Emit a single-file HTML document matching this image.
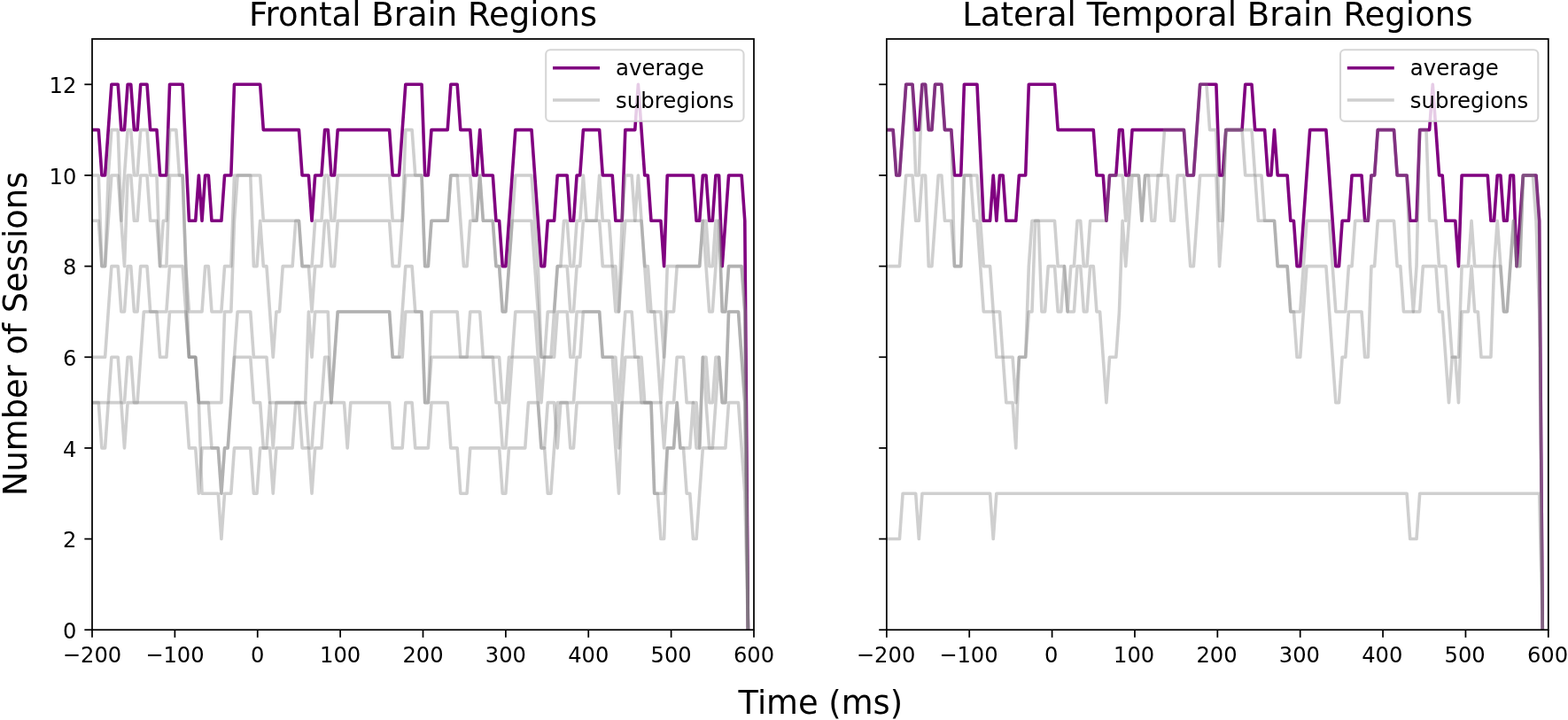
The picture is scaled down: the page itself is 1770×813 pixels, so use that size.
<!DOCTYPE html>
<html><head><meta charset="utf-8"><title>Number of Sessions</title>
<style>html,body{margin:0;padding:0;background:#fff;overflow:hidden}svg{display:block}text{font-family:"DejaVu Sans","Liberation Sans",sans-serif;fill:#000}</style></head>
<body>
<svg width="1770" height="813" viewBox="0 0 1770 813">
<rect width="1770" height="813" fill="#fff"/>
<defs><clipPath id="c0"><rect x="104.0" y="44.0" width="747.0" height="667.2"/></clipPath><clipPath id="c1"><rect x="1000.85" y="44.0" width="746.9499999999999" height="667.2"/></clipPath></defs>
<g clip-path="url(#c0)" fill="none" stroke-linejoin="round" stroke-linecap="square" stroke-width="3.60">
<polyline stroke="#800080" points="104.00,146.65 107.65,146.65 111.29,146.65 114.94,197.97 118.59,197.97 122.24,146.65 125.88,95.32 129.53,95.32 133.18,95.32 136.83,146.65 140.47,146.65 144.12,95.32 147.77,95.32 151.42,146.65 155.06,146.65 158.71,95.32 162.36,95.32 166.01,95.32 169.65,146.65 173.30,146.65 176.95,146.65 180.60,197.97 184.24,197.97 187.89,197.97 191.54,95.32 195.19,95.32 198.83,95.32 202.48,95.32 206.13,95.32 209.78,172.31 213.42,249.29 217.07,249.29 220.72,249.29 224.37,197.97 228.01,249.29 231.66,197.97 235.31,197.97 238.96,249.29 242.60,249.29 246.25,249.29 249.90,249.29 253.55,197.97 257.19,197.97 260.84,197.97 264.49,95.32 268.14,95.32 271.78,95.32 275.43,95.32 279.08,95.32 282.73,95.32 286.37,95.32 290.02,95.32 293.67,95.32 297.32,146.65 300.96,146.65 304.61,146.65 308.26,146.65 311.91,146.65 315.55,146.65 319.20,146.65 322.85,146.65 326.50,146.65 330.14,146.65 333.79,146.65 337.44,146.65 341.08,197.97 344.73,197.97 348.38,197.97 352.03,249.29 355.67,197.97 359.32,197.97 362.97,197.97 366.62,146.65 370.26,146.65 373.91,197.97 377.56,197.97 381.21,146.65 384.85,146.65 388.50,146.65 392.15,146.65 395.80,146.65 399.44,146.65 403.09,146.65 406.74,146.65 410.39,146.65 414.03,146.65 417.68,146.65 421.33,146.65 424.98,146.65 428.62,146.65 432.27,146.65 435.92,146.65 439.57,146.65 443.21,197.97 446.86,197.97 450.51,197.97 454.16,146.65 457.80,95.32 461.45,95.32 465.10,95.32 468.75,95.32 472.39,95.32 476.04,95.32 479.69,197.97 483.34,197.97 486.98,146.65 490.63,146.65 494.28,146.65 497.93,146.65 501.57,146.65 505.22,146.65 508.87,95.32 512.52,95.32 516.16,95.32 519.81,146.65 523.46,146.65 527.11,146.65 530.75,146.65 534.40,197.97 538.05,197.97 541.70,146.65 545.34,197.97 548.99,197.97 552.64,197.97 556.29,197.97 559.93,249.29 563.58,249.29 567.23,300.62 570.88,300.62 574.52,249.29 578.17,197.97 581.82,146.65 585.46,146.65 589.11,146.65 592.76,146.65 596.41,146.65 600.05,146.65 603.70,197.97 607.35,249.29 611.00,300.62 614.64,300.62 618.29,249.29 621.94,249.29 625.59,249.29 629.23,197.97 632.88,197.97 636.53,197.97 640.18,197.97 643.82,249.29 647.47,249.29 651.12,197.97 654.77,197.97 658.41,146.65 662.06,146.65 665.71,146.65 669.36,146.65 673.00,146.65 676.65,146.65 680.30,197.97 683.95,197.97 687.59,197.97 691.24,197.97 694.89,249.29 698.54,249.29 702.18,249.29 705.83,146.65 709.48,146.65 713.13,146.65 716.77,146.65 720.42,95.32 724.07,146.65 727.72,197.97 731.36,197.97 735.01,249.29 738.66,249.29 742.31,249.29 745.95,249.29 749.60,300.62 753.25,197.97 756.90,197.97 760.54,197.97 764.19,197.97 767.84,197.97 771.49,197.97 775.13,197.97 778.78,197.97 782.43,197.97 786.08,249.29 789.72,249.29 793.37,197.97 797.02,197.97 800.67,249.29 804.31,249.29 807.96,197.97 811.61,197.97 815.25,300.62 818.90,249.29 822.55,197.97 826.20,197.97 829.84,197.97 833.49,197.97 837.14,197.97 840.79,249.29 844.43,711.20"/>
<polyline stroke="#808080" stroke-opacity="0.38" points="104.00,197.97 107.65,197.97 111.29,197.97 114.94,300.62 118.59,300.62 122.24,197.97 125.88,146.65 129.53,146.65 133.18,146.65 136.83,249.29 140.47,197.97 144.12,146.65 147.77,146.65 151.42,197.97 155.06,197.97 158.71,146.65 162.36,146.65 166.01,146.65 169.65,197.97 173.30,197.97 176.95,197.97 180.60,300.62 184.24,249.29 187.89,249.29 191.54,146.65 195.19,146.65 198.83,146.65 202.48,197.97 206.13,197.97 209.78,300.62 213.42,351.94 217.07,351.94 220.72,351.94 224.37,351.94 228.01,351.94 231.66,300.62 235.31,300.62 238.96,351.94 242.60,351.94 246.25,351.94 249.90,351.94 253.55,300.62 257.19,300.62 260.84,300.62 264.49,197.97 268.14,197.97 271.78,197.97 275.43,197.97 279.08,197.97 282.73,197.97 286.37,197.97 290.02,197.97 293.67,197.97 297.32,249.29 300.96,249.29 304.61,249.29 308.26,249.29 311.91,249.29 315.55,249.29 319.20,249.29 322.85,249.29 326.50,249.29 330.14,249.29 333.79,249.29 337.44,249.29 341.08,300.62 344.73,300.62 348.38,300.62 352.03,300.62 355.67,249.29 359.32,249.29 362.97,249.29 366.62,197.97 370.26,197.97 373.91,249.29 377.56,249.29 381.21,197.97 384.85,197.97 388.50,197.97 392.15,197.97 395.80,197.97 399.44,197.97 403.09,197.97 406.74,197.97 410.39,197.97 414.03,197.97 417.68,197.97 421.33,197.97 424.98,197.97 428.62,197.97 432.27,197.97 435.92,197.97 439.57,197.97 443.21,249.29 446.86,249.29 450.51,249.29 454.16,249.29 457.80,146.65 461.45,146.65 465.10,146.65 468.75,197.97 472.39,197.97 476.04,197.97 479.69,300.62 483.34,300.62 486.98,249.29 490.63,249.29 494.28,249.29 497.93,249.29 501.57,249.29 505.22,249.29 508.87,197.97 512.52,197.97 516.16,197.97 519.81,197.97 523.46,197.97 527.11,197.97 530.75,197.97 534.40,249.29 538.05,249.29 541.70,197.97 545.34,249.29 548.99,249.29 552.64,249.29 556.29,249.29 559.93,300.62 563.58,300.62 567.23,351.94 570.88,351.94 574.52,300.62 578.17,249.29 581.82,197.97 585.46,197.97 589.11,197.97 592.76,197.97 596.41,197.97 600.05,197.97 603.70,249.29 607.35,300.62 611.00,403.26 614.64,403.26 618.29,351.94 621.94,351.94 625.59,351.94 629.23,300.62 632.88,300.62 636.53,249.29 640.18,249.29 643.82,300.62 647.47,300.62 651.12,249.29 654.77,249.29 658.41,197.97 662.06,249.29 665.71,249.29 669.36,249.29 673.00,249.29 676.65,197.97 680.30,249.29 683.95,249.29 687.59,249.29 691.24,300.62 694.89,300.62 698.54,351.94 702.18,249.29 705.83,197.97 709.48,197.97 713.13,197.97 716.77,249.29 720.42,197.97 724.07,249.29 727.72,300.62 731.36,300.62 735.01,351.94 738.66,351.94 742.31,351.94 745.95,351.94 749.60,403.26 753.25,300.62 756.90,300.62 760.54,300.62 764.19,300.62 767.84,300.62 771.49,300.62 775.13,300.62 778.78,300.62 782.43,300.62 786.08,300.62 789.72,300.62 793.37,249.29 797.02,249.29 800.67,300.62 804.31,300.62 807.96,249.29 811.61,249.29 815.25,351.94 818.90,351.94 822.55,300.62 826.20,300.62 829.84,300.62 833.49,300.62 837.14,300.62 840.79,351.94 844.43,711.20"/>
<polyline stroke="#808080" stroke-opacity="0.38" points="104.00,249.29 107.65,249.29 111.29,249.29 114.94,300.62 118.59,300.62 122.24,249.29 125.88,197.97 129.53,197.97 133.18,197.97 136.83,249.29 140.47,300.62 144.12,197.97 147.77,197.97 151.42,249.29 155.06,249.29 158.71,197.97 162.36,197.97 166.01,197.97 169.65,249.29 173.30,249.29 176.95,249.29 180.60,300.62 184.24,300.62 187.89,300.62 191.54,197.97 195.19,197.97 198.83,197.97 202.48,197.97 206.13,197.97 209.78,300.62 213.42,403.26 217.07,403.26 220.72,403.26 224.37,454.58 228.01,454.58 231.66,454.58 235.31,454.58 238.96,454.58 242.60,454.58 246.25,454.58 249.90,454.58 253.55,351.94 257.19,351.94 260.84,351.94 264.49,249.29 268.14,197.97 271.78,197.97 275.43,197.97 279.08,197.97 282.73,197.97 286.37,300.62 290.02,300.62 293.67,249.29 297.32,300.62 300.96,300.62 304.61,351.94 308.26,403.26 311.91,351.94 315.55,351.94 319.20,300.62 322.85,300.62 326.50,300.62 330.14,300.62 333.79,249.29 337.44,249.29 341.08,300.62 344.73,300.62 348.38,300.62 352.03,351.94 355.67,300.62 359.32,300.62 362.97,300.62 366.62,249.29 370.26,249.29 373.91,300.62 377.56,300.62 381.21,249.29 384.85,249.29 388.50,249.29 392.15,249.29 395.80,249.29 399.44,249.29 403.09,249.29 406.74,249.29 410.39,249.29 414.03,249.29 417.68,249.29 421.33,249.29 424.98,249.29 428.62,249.29 432.27,249.29 435.92,249.29 439.57,249.29 443.21,300.62 446.86,300.62 450.51,300.62 454.16,249.29 457.80,197.97 461.45,197.97 465.10,197.97 468.75,197.97 472.39,197.97 476.04,197.97 479.69,300.62 483.34,300.62 486.98,249.29 490.63,249.29 494.28,249.29 497.93,249.29 501.57,249.29 505.22,249.29 508.87,197.97 512.52,197.97 516.16,197.97 519.81,249.29 523.46,300.62 527.11,300.62 530.75,249.29 534.40,249.29 538.05,249.29 541.70,197.97 545.34,249.29 548.99,249.29 552.64,249.29 556.29,249.29 559.93,300.62 563.58,300.62 567.23,351.94 570.88,351.94 574.52,300.62 578.17,249.29 581.82,249.29 585.46,249.29 589.11,249.29 592.76,249.29 596.41,249.29 600.05,249.29 603.70,300.62 607.35,351.94 611.00,403.26 614.64,403.26 618.29,403.26 621.94,403.26 625.59,351.94 629.23,300.62 632.88,300.62 636.53,300.62 640.18,300.62 643.82,351.94 647.47,351.94 651.12,300.62 654.77,300.62 658.41,249.29 662.06,249.29 665.71,249.29 669.36,249.29 673.00,249.29 676.65,249.29 680.30,300.62 683.95,300.62 687.59,300.62 691.24,300.62 694.89,351.94 698.54,351.94 702.18,300.62 705.83,249.29 709.48,249.29 713.13,249.29 716.77,249.29 720.42,249.29 724.07,249.29 727.72,300.62 731.36,351.94 735.01,351.94 738.66,351.94 742.31,403.26 745.95,454.58 749.60,403.26 753.25,351.94 756.90,351.94 760.54,351.94 764.19,300.62 767.84,300.62 771.49,300.62 775.13,300.62 778.78,300.62 782.43,300.62 786.08,300.62 789.72,300.62 793.37,249.29 797.02,300.62 800.67,351.94 804.31,351.94 807.96,300.62 811.61,249.29 815.25,351.94 818.90,351.94 822.55,300.62 826.20,300.62 829.84,300.62 833.49,300.62 837.14,300.62 840.79,351.94 844.43,711.20"/>
<polyline stroke="#808080" stroke-opacity="0.38" points="104.00,403.26 107.65,403.26 111.29,403.26 114.94,403.26 118.59,403.26 122.24,351.94 125.88,300.62 129.53,300.62 133.18,300.62 136.83,351.94 140.47,351.94 144.12,300.62 147.77,300.62 151.42,351.94 155.06,351.94 158.71,300.62 162.36,300.62 166.01,300.62 169.65,351.94 173.30,351.94 176.95,351.94 180.60,351.94 184.24,351.94 187.89,351.94 191.54,300.62 195.19,300.62 198.83,300.62 202.48,300.62 206.13,300.62 209.78,351.94 213.42,403.26 217.07,403.26 220.72,403.26 224.37,454.58 228.01,454.58 231.66,454.58 235.31,454.58 238.96,505.91 242.60,505.91 246.25,505.91 249.90,557.23 253.55,505.91 257.19,505.91 260.84,454.58 264.49,403.26 268.14,351.94 271.78,351.94 275.43,351.94 279.08,351.94 282.73,351.94 286.37,403.26 290.02,403.26 293.67,403.26 297.32,403.26 300.96,403.26 304.61,454.58 308.26,454.58 311.91,454.58 315.55,454.58 319.20,454.58 322.85,454.58 326.50,454.58 330.14,454.58 333.79,454.58 337.44,454.58 341.08,454.58 344.73,454.58 348.38,351.94 352.03,403.26 355.67,351.94 359.32,351.94 362.97,351.94 366.62,351.94 370.26,351.94 373.91,454.58 377.56,403.26 381.21,351.94 384.85,351.94 388.50,351.94 392.15,351.94 395.80,351.94 399.44,351.94 403.09,351.94 406.74,351.94 410.39,351.94 414.03,351.94 417.68,351.94 421.33,351.94 424.98,351.94 428.62,351.94 432.27,351.94 435.92,351.94 439.57,351.94 443.21,403.26 446.86,403.26 450.51,403.26 454.16,351.94 457.80,300.62 461.45,300.62 465.10,300.62 468.75,351.94 472.39,351.94 476.04,351.94 479.69,454.58 483.34,454.58 486.98,351.94 490.63,351.94 494.28,351.94 497.93,351.94 501.57,351.94 505.22,351.94 508.87,351.94 512.52,351.94 516.16,351.94 519.81,403.26 523.46,403.26 527.11,403.26 530.75,351.94 534.40,351.94 538.05,351.94 541.70,351.94 545.34,403.26 548.99,403.26 552.64,403.26 556.29,403.26 559.93,403.26 563.58,403.26 567.23,454.58 570.88,454.58 574.52,403.26 578.17,403.26 581.82,351.94 585.46,351.94 589.11,351.94 592.76,351.94 596.41,351.94 600.05,351.94 603.70,351.94 607.35,403.26 611.00,454.58 614.64,403.26 618.29,403.26 621.94,403.26 625.59,403.26 629.23,351.94 632.88,351.94 636.53,351.94 640.18,351.94 643.82,403.26 647.47,403.26 651.12,351.94 654.77,351.94 658.41,351.94 662.06,351.94 665.71,351.94 669.36,351.94 673.00,351.94 676.65,351.94 680.30,403.26 683.95,403.26 687.59,403.26 691.24,403.26 694.89,403.26 698.54,454.58 702.18,403.26 705.83,351.94 709.48,351.94 713.13,351.94 716.77,403.26 720.42,403.26 724.07,403.26 727.72,454.58 731.36,454.58 735.01,454.58 738.66,454.58 742.31,454.58 745.95,454.58 749.60,505.91 753.25,454.58 756.90,454.58 760.54,454.58 764.19,403.26 767.84,403.26 771.49,403.26 775.13,454.58 778.78,454.58 782.43,454.58 786.08,454.58 789.72,505.91 793.37,403.26 797.02,403.26 800.67,454.58 804.31,454.58 807.96,403.26 811.61,403.26 815.25,454.58 818.90,454.58 822.55,351.94 826.20,351.94 829.84,351.94 833.49,351.94 837.14,403.26 840.79,454.58 844.43,711.20"/>
<polyline stroke="#808080" stroke-opacity="0.38" points="104.00,454.58 107.65,454.58 111.29,454.58 114.94,454.58 118.59,454.58 122.24,454.58 125.88,403.26 129.53,403.26 133.18,403.26 136.83,454.58 140.47,454.58 144.12,403.26 147.77,403.26 151.42,454.58 155.06,454.58 158.71,403.26 162.36,351.94 166.01,351.94 169.65,351.94 173.30,351.94 176.95,351.94 180.60,403.26 184.24,403.26 187.89,403.26 191.54,351.94 195.19,351.94 198.83,351.94 202.48,351.94 206.13,351.94 209.78,351.94 213.42,403.26 217.07,403.26 220.72,403.26 224.37,454.58 228.01,557.23 231.66,557.23 235.31,557.23 238.96,557.23 242.60,557.23 246.25,557.23 249.90,608.55 253.55,557.23 257.19,557.23 260.84,557.23 264.49,505.91 268.14,505.91 271.78,505.91 275.43,505.91 279.08,505.91 282.73,505.91 286.37,557.23 290.02,557.23 293.67,505.91 297.32,505.91 300.96,505.91 304.61,505.91 308.26,557.23 311.91,505.91 315.55,505.91 319.20,505.91 322.85,505.91 326.50,505.91 330.14,505.91 333.79,454.58 337.44,454.58 341.08,505.91 344.73,505.91 348.38,505.91 352.03,557.23 355.67,505.91 359.32,505.91 362.97,505.91 366.62,454.58 370.26,454.58 373.91,454.58 377.56,454.58 381.21,454.58 384.85,454.58 388.50,454.58 392.15,505.91 395.80,454.58 399.44,454.58 403.09,454.58 406.74,454.58 410.39,454.58 414.03,454.58 417.68,454.58 421.33,454.58 424.98,454.58 428.62,454.58 432.27,454.58 435.92,454.58 439.57,454.58 443.21,505.91 446.86,505.91 450.51,505.91 454.16,505.91 457.80,454.58 461.45,454.58 465.10,454.58 468.75,505.91 472.39,505.91 476.04,505.91 479.69,505.91 483.34,505.91 486.98,454.58 490.63,454.58 494.28,454.58 497.93,454.58 501.57,454.58 505.22,454.58 508.87,505.91 512.52,505.91 516.16,505.91 519.81,557.23 523.46,557.23 527.11,557.23 530.75,505.91 534.40,505.91 538.05,505.91 541.70,505.91 545.34,505.91 548.99,505.91 552.64,505.91 556.29,505.91 559.93,505.91 563.58,505.91 567.23,557.23 570.88,557.23 574.52,505.91 578.17,505.91 581.82,505.91 585.46,505.91 589.11,505.91 592.76,505.91 596.41,454.58 600.05,454.58 603.70,454.58 607.35,454.58 611.00,505.91 614.64,505.91 618.29,557.23 621.94,557.23 625.59,505.91 629.23,454.58 632.88,454.58 636.53,454.58 640.18,454.58 643.82,454.58 647.47,454.58 651.12,403.26 654.77,403.26 658.41,351.94 662.06,351.94 665.71,351.94 669.36,351.94 673.00,351.94 676.65,351.94 680.30,403.26 683.95,403.26 687.59,403.26 691.24,403.26 694.89,454.58 698.54,505.91 702.18,454.58 705.83,403.26 709.48,403.26 713.13,403.26 716.77,403.26 720.42,403.26 724.07,454.58 727.72,454.58 731.36,454.58 735.01,454.58 738.66,557.23 742.31,557.23 745.95,557.23 749.60,557.23 753.25,505.91 756.90,505.91 760.54,505.91 764.19,454.58 767.84,505.91 771.49,505.91 775.13,505.91 778.78,505.91 782.43,454.58 786.08,505.91 789.72,505.91 793.37,403.26 797.02,454.58 800.67,505.91 804.31,505.91 807.96,454.58 811.61,403.26 815.25,454.58 818.90,454.58 822.55,351.94 826.20,351.94 829.84,351.94 833.49,351.94 837.14,403.26 840.79,454.58 844.43,711.20"/>
<polyline stroke="#808080" stroke-opacity="0.38" points="104.00,454.58 107.65,454.58 111.29,454.58 114.94,505.91 118.59,505.91 122.24,454.58 125.88,454.58 129.53,454.58 133.18,454.58 136.83,454.58 140.47,505.91 144.12,454.58 147.77,454.58 151.42,454.58 155.06,454.58 158.71,454.58 162.36,454.58 166.01,454.58 169.65,454.58 173.30,454.58 176.95,454.58 180.60,454.58 184.24,454.58 187.89,454.58 191.54,454.58 195.19,454.58 198.83,454.58 202.48,454.58 206.13,454.58 209.78,454.58 213.42,505.91 217.07,505.91 220.72,505.91 224.37,557.23 228.01,505.91 231.66,505.91 235.31,505.91 238.96,505.91 242.60,505.91 246.25,505.91 249.90,557.23 253.55,505.91 257.19,505.91 260.84,454.58 264.49,403.26 268.14,403.26 271.78,403.26 275.43,403.26 279.08,403.26 282.73,403.26 286.37,454.58 290.02,454.58 293.67,454.58 297.32,505.91 300.96,505.91 304.61,454.58 308.26,505.91 311.91,454.58 315.55,454.58 319.20,454.58 322.85,454.58 326.50,454.58 330.14,454.58 333.79,454.58 337.44,454.58 341.08,454.58 344.73,454.58 348.38,505.91 352.03,505.91 355.67,454.58 359.32,454.58 362.97,454.58 366.62,403.26 370.26,403.26 373.91,454.58 377.56,403.26 381.21,351.94 384.85,351.94 388.50,351.94 392.15,351.94 395.80,351.94 399.44,351.94 403.09,351.94 406.74,351.94 410.39,351.94 414.03,351.94 417.68,351.94 421.33,351.94 424.98,351.94 428.62,351.94 432.27,351.94 435.92,351.94 439.57,351.94 443.21,403.26 446.86,403.26 450.51,403.26 454.16,403.26 457.80,351.94 461.45,351.94 465.10,351.94 468.75,351.94 472.39,351.94 476.04,351.94 479.69,454.58 483.34,454.58 486.98,403.26 490.63,403.26 494.28,403.26 497.93,403.26 501.57,403.26 505.22,403.26 508.87,403.26 512.52,403.26 516.16,403.26 519.81,403.26 523.46,403.26 527.11,403.26 530.75,403.26 534.40,403.26 538.05,403.26 541.70,403.26 545.34,403.26 548.99,403.26 552.64,403.26 556.29,403.26 559.93,454.58 563.58,454.58 567.23,505.91 570.88,505.91 574.52,454.58 578.17,403.26 581.82,403.26 585.46,403.26 589.11,403.26 592.76,403.26 596.41,403.26 600.05,403.26 603.70,403.26 607.35,454.58 611.00,505.91 614.64,505.91 618.29,454.58 621.94,454.58 625.59,454.58 629.23,505.91 632.88,454.58 636.53,454.58 640.18,454.58 643.82,505.91 647.47,505.91 651.12,454.58 654.77,454.58 658.41,454.58 662.06,454.58 665.71,454.58 669.36,454.58 673.00,454.58 676.65,454.58 680.30,454.58 683.95,454.58 687.59,454.58 691.24,454.58 694.89,505.91 698.54,557.23 702.18,454.58 705.83,454.58 709.48,454.58 713.13,454.58 716.77,454.58 720.42,454.58 724.07,454.58 727.72,454.58 731.36,454.58 735.01,454.58 738.66,557.23 742.31,557.23 745.95,608.55 749.60,608.55 753.25,505.91 756.90,505.91 760.54,505.91 764.19,454.58 767.84,505.91 771.49,505.91 775.13,557.23 778.78,557.23 782.43,608.55 786.08,608.55 789.72,557.23 793.37,505.91 797.02,505.91 800.67,505.91 804.31,505.91 807.96,505.91 811.61,505.91 815.25,505.91 818.90,505.91 822.55,454.58 826.20,454.58 829.84,454.58 833.49,454.58 837.14,505.91 840.79,557.23 844.43,711.20"/>
</g>
<g stroke="#000" stroke-width="1.75" fill="none">
<line x1="104.00" y1="711.2" x2="104.00" y2="719.85"/><line x1="197.38" y1="711.2" x2="197.38" y2="719.85"/><line x1="290.75" y1="711.2" x2="290.75" y2="719.85"/><line x1="384.12" y1="711.2" x2="384.12" y2="719.85"/><line x1="477.50" y1="711.2" x2="477.50" y2="719.85"/><line x1="570.88" y1="711.2" x2="570.88" y2="719.85"/><line x1="664.25" y1="711.2" x2="664.25" y2="719.85"/><line x1="757.62" y1="711.2" x2="757.62" y2="719.85"/><line x1="851.00" y1="711.2" x2="851.00" y2="719.85"/><line x1="95.36" y1="711.20" x2="104.0" y2="711.20"/><line x1="95.36" y1="608.55" x2="104.0" y2="608.55"/><line x1="95.36" y1="505.91" x2="104.0" y2="505.91"/><line x1="95.36" y1="403.26" x2="104.0" y2="403.26"/><line x1="95.36" y1="300.62" x2="104.0" y2="300.62"/><line x1="95.36" y1="197.97" x2="104.0" y2="197.97"/><line x1="95.36" y1="95.32" x2="104.0" y2="95.32"/>
<rect x="104.0" y="44.0" width="747.0" height="667.2" stroke-linejoin="miter"/>
</g>
<g font-size="24.2" text-anchor="middle">
<text transform="translate(104.00,748.3) scale(1,1.06)">−200</text><text transform="translate(197.38,748.3) scale(1,1.06)">−100</text><text transform="translate(290.75,748.3) scale(1,1.06)">0</text><text transform="translate(384.12,748.3) scale(1,1.06)">100</text><text transform="translate(477.50,748.3) scale(1,1.06)">200</text><text transform="translate(570.88,748.3) scale(1,1.06)">300</text><text transform="translate(664.25,748.3) scale(1,1.06)">400</text><text transform="translate(757.62,748.3) scale(1,1.06)">500</text><text transform="translate(851.00,748.3) scale(1,1.06)">600</text>
</g>
<g font-size="24.2" text-anchor="end">
<text transform="translate(86.31,720.80) scale(1,1.06)">0</text><text transform="translate(86.31,618.15) scale(1,1.06)">2</text><text transform="translate(86.31,515.51) scale(1,1.06)">4</text><text transform="translate(86.31,412.86) scale(1,1.06)">6</text><text transform="translate(86.31,310.22) scale(1,1.06)">8</text><text transform="translate(86.31,207.57) scale(1,1.06)">10</text><text transform="translate(86.31,104.92) scale(1,1.06)">12</text>
</g>
<text x="477.50" y="29.1" font-size="37.0" text-anchor="middle">Frontal Brain Regions</text>
<rect x="616.20" y="56.2" width="223.30" height="80.70" rx="4.9" ry="4.9" fill="#fff" fill-opacity="0.8" stroke="#ccc" stroke-opacity="0.8" stroke-width="2.1"/>
<line x1="625.80" y1="76.7" x2="675.20" y2="76.7" stroke="#800080" stroke-width="3.60" stroke-linecap="square"/>
<line x1="625.80" y1="113.0" x2="675.20" y2="113.0" stroke="#808080" stroke-opacity="0.38" stroke-width="3.60" stroke-linecap="square"/>
<text x="695.00" y="84.8" font-size="24.4">average</text>
<text x="695.00" y="121.5" font-size="24.4">subregions</text>
<g clip-path="url(#c1)" fill="none" stroke-linejoin="round" stroke-linecap="square" stroke-width="3.60">
<polyline stroke="#800080" points="1000.85,146.65 1004.50,146.65 1008.14,146.65 1011.79,197.97 1015.44,197.97 1019.09,146.65 1022.73,95.32 1026.38,95.32 1030.03,95.32 1033.68,146.65 1037.32,146.65 1040.97,95.32 1044.62,95.32 1048.27,146.65 1051.91,146.65 1055.56,95.32 1059.21,95.32 1062.86,95.32 1066.50,146.65 1070.15,146.65 1073.80,146.65 1077.45,197.97 1081.09,197.97 1084.74,197.97 1088.39,95.32 1092.04,95.32 1095.68,95.32 1099.33,95.32 1102.98,95.32 1106.63,172.31 1110.27,249.29 1113.92,249.29 1117.57,249.29 1121.22,197.97 1124.86,249.29 1128.51,197.97 1132.16,197.97 1135.81,249.29 1139.45,249.29 1143.10,249.29 1146.75,249.29 1150.40,197.97 1154.04,197.97 1157.69,197.97 1161.34,95.32 1164.99,95.32 1168.63,95.32 1172.28,95.32 1175.93,95.32 1179.58,95.32 1183.22,95.32 1186.87,95.32 1190.52,95.32 1194.17,146.65 1197.81,146.65 1201.46,146.65 1205.11,146.65 1208.76,146.65 1212.40,146.65 1216.05,146.65 1219.70,146.65 1223.35,146.65 1226.99,146.65 1230.64,146.65 1234.29,146.65 1237.93,197.97 1241.58,197.97 1245.23,197.97 1248.88,249.29 1252.52,197.97 1256.17,197.97 1259.82,197.97 1263.47,146.65 1267.11,146.65 1270.76,197.97 1274.41,197.97 1278.06,146.65 1281.70,146.65 1285.35,146.65 1289.00,146.65 1292.65,146.65 1296.29,146.65 1299.94,146.65 1303.59,146.65 1307.24,146.65 1310.88,146.65 1314.53,146.65 1318.18,146.65 1321.83,146.65 1325.47,146.65 1329.12,146.65 1332.77,146.65 1336.42,146.65 1340.06,197.97 1343.71,197.97 1347.36,197.97 1351.01,146.65 1354.65,95.32 1358.30,95.32 1361.95,95.32 1365.60,95.32 1369.24,95.32 1372.89,95.32 1376.54,197.97 1380.19,197.97 1383.83,146.65 1387.48,146.65 1391.13,146.65 1394.78,146.65 1398.42,146.65 1402.07,146.65 1405.72,95.32 1409.37,95.32 1413.01,95.32 1416.66,146.65 1420.31,146.65 1423.96,146.65 1427.60,146.65 1431.25,197.97 1434.90,197.97 1438.55,146.65 1442.19,197.97 1445.84,197.97 1449.49,197.97 1453.14,197.97 1456.78,249.29 1460.43,249.29 1464.08,300.62 1467.72,300.62 1471.37,249.29 1475.02,197.97 1478.67,146.65 1482.31,146.65 1485.96,146.65 1489.61,146.65 1493.26,146.65 1496.90,146.65 1500.55,197.97 1504.20,249.29 1507.85,300.62 1511.49,300.62 1515.14,249.29 1518.79,249.29 1522.44,249.29 1526.08,197.97 1529.73,197.97 1533.38,197.97 1537.03,197.97 1540.67,249.29 1544.32,249.29 1547.97,197.97 1551.62,197.97 1555.26,146.65 1558.91,146.65 1562.56,146.65 1566.21,146.65 1569.85,146.65 1573.50,146.65 1577.15,197.97 1580.80,197.97 1584.44,197.97 1588.09,197.97 1591.74,249.29 1595.39,249.29 1599.03,249.29 1602.68,146.65 1606.33,146.65 1609.98,146.65 1613.62,146.65 1617.27,95.32 1620.92,146.65 1624.57,197.97 1628.21,197.97 1631.86,249.29 1635.51,249.29 1639.16,249.29 1642.80,249.29 1646.45,300.62 1650.10,197.97 1653.75,197.97 1657.39,197.97 1661.04,197.97 1664.69,197.97 1668.34,197.97 1671.98,197.97 1675.63,197.97 1679.28,197.97 1682.93,249.29 1686.57,249.29 1690.22,197.97 1693.87,197.97 1697.52,249.29 1701.16,249.29 1704.81,197.97 1708.46,197.97 1712.10,300.62 1715.75,249.29 1719.40,197.97 1723.05,197.97 1726.69,197.97 1730.34,197.97 1733.99,197.97 1737.64,249.29 1741.28,711.20"/>
<polyline stroke="#808080" stroke-opacity="0.38" points="1000.85,146.65 1004.50,146.65 1008.14,146.65 1011.79,197.97 1015.44,197.97 1019.09,146.65 1022.73,95.32 1026.38,95.32 1030.03,95.32 1033.68,197.97 1037.32,197.97 1040.97,95.32 1044.62,95.32 1048.27,146.65 1051.91,146.65 1055.56,95.32 1059.21,95.32 1062.86,95.32 1066.50,146.65 1070.15,146.65 1073.80,146.65 1077.45,300.62 1081.09,300.62 1084.74,300.62 1088.39,197.97 1092.04,197.97 1095.68,197.97 1099.33,197.97 1102.98,197.97 1106.63,249.29 1110.27,300.62 1113.92,300.62 1117.57,300.62 1121.22,351.94 1124.86,351.94 1128.51,351.94 1132.16,403.26 1135.81,403.26 1139.45,403.26 1143.10,403.26 1146.75,454.58 1150.40,403.26 1154.04,403.26 1157.69,403.26 1161.34,300.62 1164.99,249.29 1168.63,249.29 1172.28,249.29 1175.93,249.29 1179.58,249.29 1183.22,249.29 1186.87,249.29 1190.52,249.29 1194.17,300.62 1197.81,300.62 1201.46,300.62 1205.11,351.94 1208.76,300.62 1212.40,300.62 1216.05,249.29 1219.70,249.29 1223.35,300.62 1226.99,300.62 1230.64,249.29 1234.29,249.29 1237.93,249.29 1241.58,249.29 1245.23,249.29 1248.88,249.29 1252.52,197.97 1256.17,197.97 1259.82,197.97 1263.47,197.97 1267.11,197.97 1270.76,249.29 1274.41,197.97 1278.06,197.97 1281.70,197.97 1285.35,197.97 1289.00,249.29 1292.65,197.97 1296.29,197.97 1299.94,197.97 1303.59,197.97 1307.24,197.97 1310.88,197.97 1314.53,146.65 1318.18,146.65 1321.83,146.65 1325.47,146.65 1329.12,146.65 1332.77,146.65 1336.42,146.65 1340.06,197.97 1343.71,197.97 1347.36,197.97 1351.01,146.65 1354.65,95.32 1358.30,95.32 1361.95,95.32 1365.60,146.65 1369.24,146.65 1372.89,146.65 1376.54,249.29 1380.19,249.29 1383.83,146.65 1387.48,146.65 1391.13,146.65 1394.78,146.65 1398.42,146.65 1402.07,146.65 1405.72,146.65 1409.37,146.65 1413.01,146.65 1416.66,197.97 1420.31,197.97 1423.96,197.97 1427.60,249.29 1431.25,249.29 1434.90,249.29 1438.55,249.29 1442.19,300.62 1445.84,300.62 1449.49,300.62 1453.14,300.62 1456.78,351.94 1460.43,351.94 1464.08,351.94 1467.72,351.94 1471.37,300.62 1475.02,249.29 1478.67,249.29 1482.31,249.29 1485.96,249.29 1489.61,249.29 1493.26,249.29 1496.90,249.29 1500.55,249.29 1504.20,300.62 1507.85,351.94 1511.49,351.94 1515.14,351.94 1518.79,351.94 1522.44,300.62 1526.08,300.62 1529.73,249.29 1533.38,249.29 1537.03,249.29 1540.67,249.29 1544.32,249.29 1547.97,197.97 1551.62,197.97 1555.26,146.65 1558.91,146.65 1562.56,146.65 1566.21,146.65 1569.85,146.65 1573.50,146.65 1577.15,197.97 1580.80,197.97 1584.44,197.97 1588.09,197.97 1591.74,300.62 1595.39,351.94 1599.03,300.62 1602.68,146.65 1606.33,146.65 1609.98,146.65 1613.62,249.29 1617.27,249.29 1620.92,249.29 1624.57,300.62 1628.21,300.62 1631.86,300.62 1635.51,351.94 1639.16,403.26 1642.80,403.26 1646.45,403.26 1650.10,300.62 1653.75,300.62 1657.39,300.62 1661.04,249.29 1664.69,300.62 1668.34,300.62 1671.98,300.62 1675.63,300.62 1679.28,300.62 1682.93,300.62 1686.57,300.62 1690.22,249.29 1693.87,300.62 1697.52,351.94 1701.16,351.94 1704.81,300.62 1708.46,249.29 1712.10,300.62 1715.75,300.62 1719.40,197.97 1723.05,197.97 1726.69,197.97 1730.34,197.97 1733.99,197.97 1737.64,249.29 1741.28,711.20"/>
<polyline stroke="#808080" stroke-opacity="0.38" points="1000.85,300.62 1004.50,300.62 1008.14,300.62 1011.79,300.62 1015.44,300.62 1019.09,249.29 1022.73,197.97 1026.38,197.97 1030.03,197.97 1033.68,249.29 1037.32,249.29 1040.97,197.97 1044.62,197.97 1048.27,300.62 1051.91,300.62 1055.56,249.29 1059.21,197.97 1062.86,197.97 1066.50,249.29 1070.15,249.29 1073.80,249.29 1077.45,300.62 1081.09,300.62 1084.74,300.62 1088.39,197.97 1092.04,197.97 1095.68,197.97 1099.33,249.29 1102.98,249.29 1106.63,300.62 1110.27,351.94 1113.92,351.94 1117.57,351.94 1121.22,351.94 1124.86,403.26 1128.51,403.26 1132.16,403.26 1135.81,454.58 1139.45,454.58 1143.10,454.58 1146.75,505.91 1150.40,403.26 1154.04,403.26 1157.69,403.26 1161.34,351.94 1164.99,351.94 1168.63,249.29 1172.28,249.29 1175.93,351.94 1179.58,351.94 1183.22,300.62 1186.87,300.62 1190.52,300.62 1194.17,351.94 1197.81,351.94 1201.46,300.62 1205.11,351.94 1208.76,351.94 1212.40,351.94 1216.05,300.62 1219.70,300.62 1223.35,351.94 1226.99,351.94 1230.64,300.62 1234.29,300.62 1237.93,351.94 1241.58,351.94 1245.23,403.26 1248.88,454.58 1252.52,403.26 1256.17,403.26 1259.82,403.26 1263.47,351.94 1267.11,249.29 1270.76,300.62 1274.41,249.29 1278.06,197.97 1281.70,197.97 1285.35,197.97 1289.00,249.29 1292.65,197.97 1296.29,197.97 1299.94,249.29 1303.59,249.29 1307.24,197.97 1310.88,197.97 1314.53,197.97 1318.18,197.97 1321.83,249.29 1325.47,249.29 1329.12,197.97 1332.77,197.97 1336.42,197.97 1340.06,249.29 1343.71,300.62 1347.36,300.62 1351.01,249.29 1354.65,197.97 1358.30,197.97 1361.95,197.97 1365.60,197.97 1369.24,197.97 1372.89,197.97 1376.54,300.62 1380.19,249.29 1383.83,146.65 1387.48,146.65 1391.13,146.65 1394.78,146.65 1398.42,146.65 1402.07,146.65 1405.72,197.97 1409.37,197.97 1413.01,197.97 1416.66,197.97 1420.31,249.29 1423.96,249.29 1427.60,249.29 1431.25,249.29 1434.90,249.29 1438.55,249.29 1442.19,300.62 1445.84,300.62 1449.49,300.62 1453.14,300.62 1456.78,351.94 1460.43,351.94 1464.08,403.26 1467.72,403.26 1471.37,351.94 1475.02,300.62 1478.67,300.62 1482.31,300.62 1485.96,300.62 1489.61,300.62 1493.26,300.62 1496.90,300.62 1500.55,351.94 1504.20,403.26 1507.85,454.58 1511.49,454.58 1515.14,403.26 1518.79,403.26 1522.44,351.94 1526.08,351.94 1529.73,351.94 1533.38,351.94 1537.03,351.94 1540.67,403.26 1544.32,403.26 1547.97,300.62 1551.62,300.62 1555.26,249.29 1558.91,249.29 1562.56,249.29 1566.21,249.29 1569.85,249.29 1573.50,249.29 1577.15,300.62 1580.80,300.62 1584.44,351.94 1588.09,351.94 1591.74,351.94 1595.39,351.94 1599.03,351.94 1602.68,351.94 1606.33,300.62 1609.98,300.62 1613.62,300.62 1617.27,300.62 1620.92,300.62 1624.57,351.94 1628.21,351.94 1631.86,403.26 1635.51,454.58 1639.16,403.26 1642.80,403.26 1646.45,454.58 1650.10,351.94 1653.75,351.94 1657.39,351.94 1661.04,300.62 1664.69,351.94 1668.34,351.94 1671.98,403.26 1675.63,403.26 1679.28,403.26 1682.93,403.26 1686.57,300.62 1690.22,300.62 1693.87,300.62 1697.52,351.94 1701.16,351.94 1704.81,300.62 1708.46,249.29 1712.10,300.62 1715.75,300.62 1719.40,197.97 1723.05,197.97 1726.69,197.97 1730.34,197.97 1733.99,249.29 1737.64,351.94 1741.28,711.20"/>
<polyline stroke="#808080" stroke-opacity="0.38" points="1000.85,608.55 1004.50,608.55 1008.14,608.55 1011.79,608.55 1015.44,608.55 1019.09,557.23 1022.73,557.23 1026.38,557.23 1030.03,557.23 1033.68,557.23 1037.32,608.55 1040.97,557.23 1044.62,557.23 1048.27,557.23 1051.91,557.23 1055.56,557.23 1059.21,557.23 1062.86,557.23 1066.50,557.23 1070.15,557.23 1073.80,557.23 1077.45,557.23 1081.09,557.23 1084.74,557.23 1088.39,557.23 1092.04,557.23 1095.68,557.23 1099.33,557.23 1102.98,557.23 1106.63,557.23 1110.27,557.23 1113.92,557.23 1117.57,557.23 1121.22,608.55 1124.86,557.23 1128.51,557.23 1132.16,557.23 1135.81,557.23 1139.45,557.23 1143.10,557.23 1146.75,557.23 1150.40,557.23 1154.04,557.23 1157.69,557.23 1161.34,557.23 1164.99,557.23 1168.63,557.23 1172.28,557.23 1175.93,557.23 1179.58,557.23 1183.22,557.23 1186.87,557.23 1190.52,557.23 1194.17,557.23 1197.81,557.23 1201.46,557.23 1205.11,557.23 1208.76,557.23 1212.40,557.23 1216.05,557.23 1219.70,557.23 1223.35,557.23 1226.99,557.23 1230.64,557.23 1234.29,557.23 1237.93,557.23 1241.58,557.23 1245.23,557.23 1248.88,557.23 1252.52,557.23 1256.17,557.23 1259.82,557.23 1263.47,557.23 1267.11,557.23 1270.76,557.23 1274.41,557.23 1278.06,557.23 1281.70,557.23 1285.35,557.23 1289.00,557.23 1292.65,557.23 1296.29,557.23 1299.94,557.23 1303.59,557.23 1307.24,557.23 1310.88,557.23 1314.53,557.23 1318.18,557.23 1321.83,557.23 1325.47,557.23 1329.12,557.23 1332.77,557.23 1336.42,557.23 1340.06,557.23 1343.71,557.23 1347.36,557.23 1351.01,557.23 1354.65,557.23 1358.30,557.23 1361.95,557.23 1365.60,557.23 1369.24,557.23 1372.89,557.23 1376.54,557.23 1380.19,557.23 1383.83,557.23 1387.48,557.23 1391.13,557.23 1394.78,557.23 1398.42,557.23 1402.07,557.23 1405.72,557.23 1409.37,557.23 1413.01,557.23 1416.66,557.23 1420.31,557.23 1423.96,557.23 1427.60,557.23 1431.25,557.23 1434.90,557.23 1438.55,557.23 1442.19,557.23 1445.84,557.23 1449.49,557.23 1453.14,557.23 1456.78,557.23 1460.43,557.23 1464.08,557.23 1467.72,557.23 1471.37,557.23 1475.02,557.23 1478.67,557.23 1482.31,557.23 1485.96,557.23 1489.61,557.23 1493.26,557.23 1496.90,557.23 1500.55,557.23 1504.20,557.23 1507.85,557.23 1511.49,557.23 1515.14,557.23 1518.79,557.23 1522.44,557.23 1526.08,557.23 1529.73,557.23 1533.38,557.23 1537.03,557.23 1540.67,557.23 1544.32,557.23 1547.97,557.23 1551.62,557.23 1555.26,557.23 1558.91,557.23 1562.56,557.23 1566.21,557.23 1569.85,557.23 1573.50,557.23 1577.15,557.23 1580.80,557.23 1584.44,557.23 1588.09,557.23 1591.74,608.55 1595.39,608.55 1599.03,608.55 1602.68,557.23 1606.33,557.23 1609.98,557.23 1613.62,557.23 1617.27,557.23 1620.92,557.23 1624.57,557.23 1628.21,557.23 1631.86,557.23 1635.51,557.23 1639.16,557.23 1642.80,557.23 1646.45,557.23 1650.10,557.23 1653.75,557.23 1657.39,557.23 1661.04,557.23 1664.69,557.23 1668.34,557.23 1671.98,557.23 1675.63,557.23 1679.28,557.23 1682.93,557.23 1686.57,557.23 1690.22,557.23 1693.87,557.23 1697.52,557.23 1701.16,557.23 1704.81,557.23 1708.46,557.23 1712.10,557.23 1715.75,557.23 1719.40,557.23 1723.05,557.23 1726.69,557.23 1730.34,557.23 1733.99,557.23 1737.64,557.23 1741.28,711.20"/>
</g>
<g stroke="#000" stroke-width="1.75" fill="none">
<line x1="1000.85" y1="711.2" x2="1000.85" y2="719.85"/><line x1="1094.22" y1="711.2" x2="1094.22" y2="719.85"/><line x1="1187.59" y1="711.2" x2="1187.59" y2="719.85"/><line x1="1280.96" y1="711.2" x2="1280.96" y2="719.85"/><line x1="1374.33" y1="711.2" x2="1374.33" y2="719.85"/><line x1="1467.69" y1="711.2" x2="1467.69" y2="719.85"/><line x1="1561.06" y1="711.2" x2="1561.06" y2="719.85"/><line x1="1654.43" y1="711.2" x2="1654.43" y2="719.85"/><line x1="1747.80" y1="711.2" x2="1747.80" y2="719.85"/><line x1="992.21" y1="711.20" x2="1000.85" y2="711.20"/><line x1="992.21" y1="608.55" x2="1000.85" y2="608.55"/><line x1="992.21" y1="505.91" x2="1000.85" y2="505.91"/><line x1="992.21" y1="403.26" x2="1000.85" y2="403.26"/><line x1="992.21" y1="300.62" x2="1000.85" y2="300.62"/><line x1="992.21" y1="197.97" x2="1000.85" y2="197.97"/><line x1="992.21" y1="95.32" x2="1000.85" y2="95.32"/>
<rect x="1000.85" y="44.0" width="746.9499999999999" height="667.2" stroke-linejoin="miter"/>
</g>
<g font-size="24.2" text-anchor="middle">
<text transform="translate(1000.05,748.3) scale(1,1.06)">−200</text><text transform="translate(1093.42,748.3) scale(1,1.06)">−100</text><text transform="translate(1186.79,748.3) scale(1,1.06)">0</text><text transform="translate(1280.16,748.3) scale(1,1.06)">100</text><text transform="translate(1373.53,748.3) scale(1,1.06)">200</text><text transform="translate(1466.89,748.3) scale(1,1.06)">300</text><text transform="translate(1560.26,748.3) scale(1,1.06)">400</text><text transform="translate(1653.63,748.3) scale(1,1.06)">500</text><text transform="translate(1747.00,748.3) scale(1,1.06)">600</text>
</g>
<text x="1374.33" y="29.1" font-size="37.0" text-anchor="middle">Lateral Temporal Brain Regions</text>
<rect x="1513.00" y="56.2" width="223.30" height="80.70" rx="4.9" ry="4.9" fill="#fff" fill-opacity="0.8" stroke="#ccc" stroke-opacity="0.8" stroke-width="2.1"/>
<line x1="1522.60" y1="76.7" x2="1572.00" y2="76.7" stroke="#800080" stroke-width="3.60" stroke-linecap="square"/>
<line x1="1522.60" y1="113.0" x2="1572.00" y2="113.0" stroke="#808080" stroke-opacity="0.38" stroke-width="3.60" stroke-linecap="square"/>
<text x="1591.80" y="84.8" font-size="24.4">average</text>
<text x="1591.80" y="121.5" font-size="24.4">subregions</text>
<text x="926.3" y="805.9" font-size="36.8" text-anchor="middle">Time (ms)</text>
<text transform="translate(30.1,376.9) rotate(-90)" font-size="36.8" text-anchor="middle">Number of Sessions</text>
</svg>
</body></html>
